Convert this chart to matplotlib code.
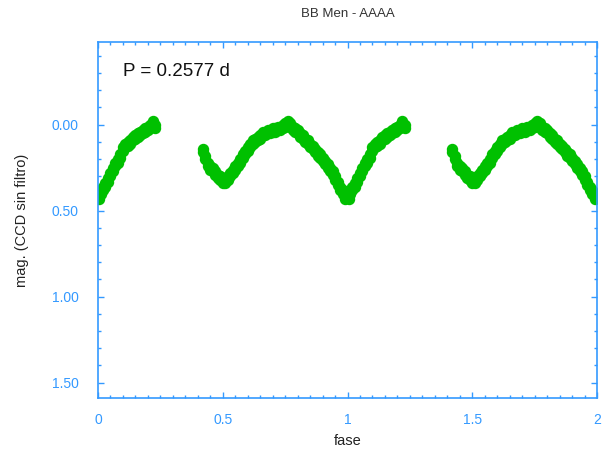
import numpy as np
import matplotlib
matplotlib.use("Agg")
import matplotlib.pyplot as plt
from matplotlib.ticker import MultipleLocator, FixedLocator, FixedFormatter

plt.rcParams['font.family'] = ['Liberation Sans', 'DejaVu Sans']

# phased light curve, one cycle (plotted twice: phase and phase + 1)
fase_a = [0.00, 0.005, 0.01, 0.02, 0.03, 0.04, 0.05, 0.06, 0.07, 0.08, 0.09, 0.10,
          0.11, 0.12, 0.13, 0.14, 0.15, 0.16, 0.17, 0.18, 0.19, 0.20, 0.21,
          0.22, 0.23]
mag_a = [0.40, 0.42, 0.39, 0.37, 0.35, 0.32, 0.29, 0.26, 0.23, 0.21, 0.18, 0.14,
         0.12, 0.11, 0.10, 0.08, 0.07, 0.06, 0.05, 0.04, 0.03, 0.02, 0.01,
         -0.01, 0.01]

fase_b = [0.42, 0.43, 0.44, 0.45, 0.46, 0.47, 0.48, 0.49, 0.50, 0.51, 0.52, 0.53,
          0.54, 0.55, 0.56, 0.57, 0.58, 0.59, 0.60, 0.61, 0.62, 0.63, 0.64,
          0.65, 0.66, 0.67, 0.68, 0.69, 0.70, 0.71, 0.72, 0.73, 0.74, 0.75,
          0.76, 0.77, 0.78, 0.79, 0.80, 0.81, 0.82, 0.83, 0.84, 0.85, 0.86,
          0.87, 0.88, 0.89, 0.90, 0.91, 0.92, 0.93, 0.94, 0.95, 0.96, 0.97,
          0.98, 0.99, 1.00]
mag_b = [0.15, 0.19, 0.23, 0.25, 0.26, 0.28, 0.30, 0.31, 0.33, 0.33, 0.31, 0.29,
         0.27, 0.25, 0.23, 0.21, 0.18, 0.16, 0.14, 0.12, 0.10, 0.09, 0.08,
         0.07, 0.05, 0.05, 0.04, 0.04, 0.03, 0.03, 0.02, 0.02, 0.01, 0.00,
         -0.01, 0.00, 0.02, 0.03, 0.04, 0.06, 0.07, 0.09, 0.10, 0.12, 0.13,
         0.15, 0.17, 0.18, 0.20, 0.22, 0.24, 0.26, 0.28, 0.31, 0.34, 0.37,
         0.39, 0.42, 0.41]

fase = np.array(fase_a + fase_b)
mag = np.array(mag_a + mag_b)

blue = '#3399ff'
green = '#00c000'

fig = plt.figure(figsize=(6.08, 4.59), dpi=100)
ax = fig.add_axes([0.1612, 0.1329, 0.8207, 0.7756])

for off in [0.0, 1.0]:
    ax.plot(fase + off, mag - 0.008, 'o', color=green, ms=7.2, mec=green)
    ax.plot(fase + off, mag + 0.012, 'o', color=green, ms=7.2, mec=green)

ax.set_xlim(0, 2)
ax.set_ylim(1.59, -0.48)

ax.xaxis.set_major_locator(FixedLocator([0, 0.5, 1, 1.5, 2]))
ax.xaxis.set_major_formatter(FixedFormatter(['0', '0.5', '1', '1.5', '2']))
ax.xaxis.set_minor_locator(MultipleLocator(0.05))
ax.yaxis.set_major_locator(FixedLocator([0.0, 0.5, 1.0, 1.5]))
ax.yaxis.set_major_formatter(FixedFormatter(['0.00', '0.50', '1.00', '1.50']))
ax.yaxis.set_minor_locator(MultipleLocator(0.1))

ax.tick_params(which='both', direction='in', top=True, right=True,
               color=blue, labelcolor=blue, labelsize=10, width=1)
ax.tick_params(which='major', length=4, pad=11)
ax.tick_params(which='minor', length=2.5)
ax.tick_params(axis='y', which='major', pad=14)
for s in ax.spines.values():
    s.set_color(blue)
    s.set_linewidth(1.2)

ax.set_xlabel('fase', color='#222222', fontsize=10.5, labelpad=5)
ax.set_ylabel('mag. (CCD sin filtro)', color='#222222', fontsize=10.5, labelpad=16)
ax.set_title('BB Men - AAAA', color='#333333', fontsize=9.5, pad=18)
ax.text(0.1, -0.31, 'P = 0.2577 d', fontsize=13.5, color='#111111', va='center')

fig.savefig('out.png', dpi=100)
